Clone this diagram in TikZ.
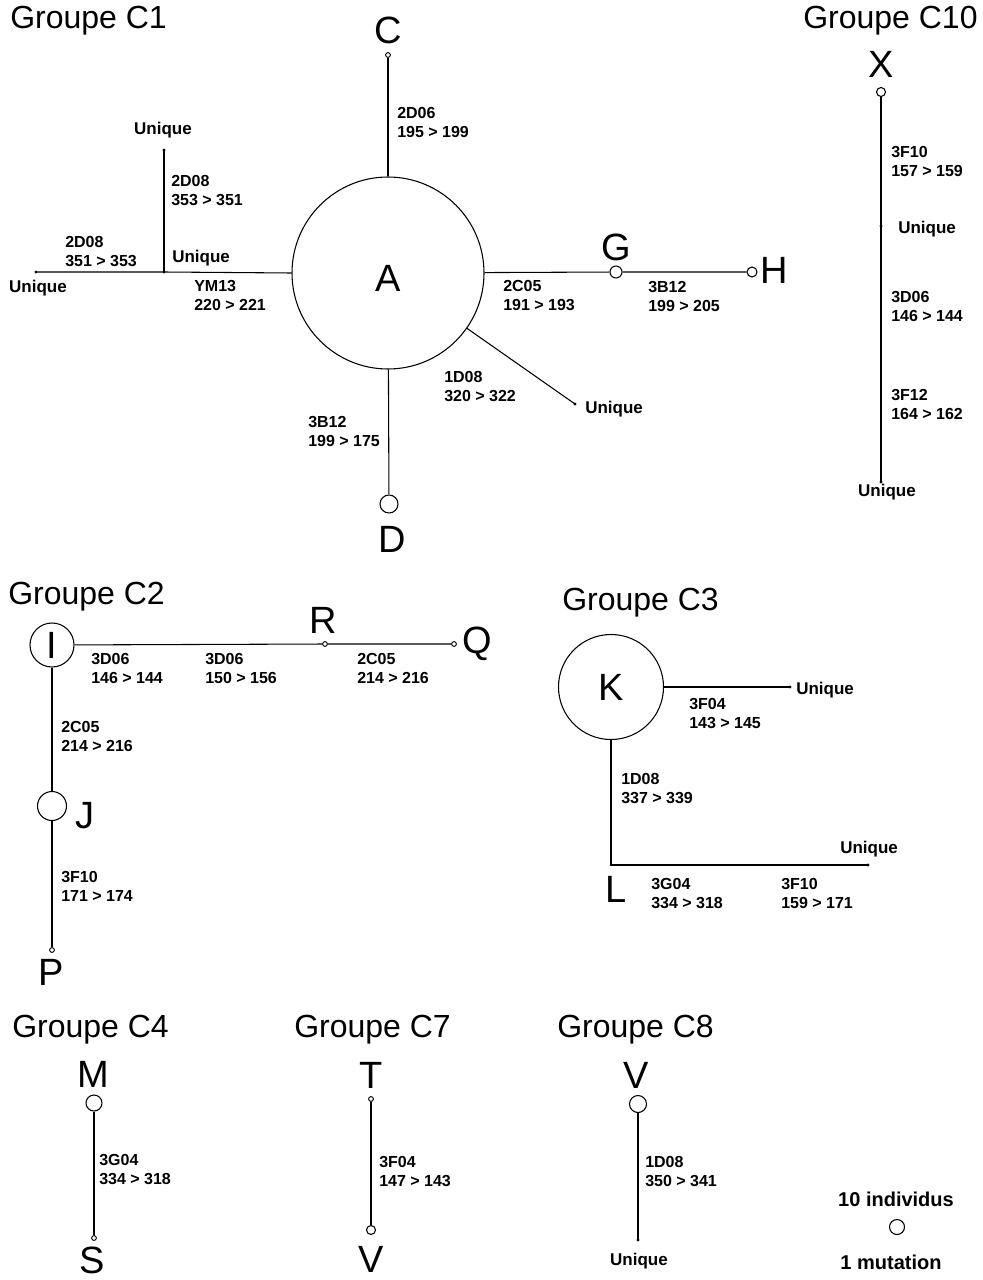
\documentclass[tikz,border=0pt]{standalone}
\usepackage{fontspec}
\setmainfont{Liberation Sans}
\newcommand{\labfont}{\fontsize{12}{14.25}\selectfont\bfseries}
\newcommand{\unifont}{\fontsize{12.75}{15}\selectfont\bfseries}
\newcommand{\bigfont}{\fontsize{28.5}{30}\selectfont}
\newcommand{\grpfont}{\fontsize{24}{26}\selectfont}
\newcommand{\legfont}{\fontsize{15}{17}\selectfont\bfseries}
\begin{document}
\begin{tikzpicture}[x=0.75pt,y=-0.75pt,
  hap/.style={circle, draw, line width=0.8pt, inner sep=0pt, minimum size=#1},
  dotn/.style={circle, fill, inner sep=0pt, minimum size=2.4pt},
  odot/.style={circle, draw, line width=0.7pt, inner sep=0pt, minimum size=3.6pt},
  lab/.style={font=\labfont, align=left, anchor=west, inner sep=0pt},
  uni/.style={font=\unifont, inner sep=0pt},
  bigl/.style={font=\bigfont, inner sep=0pt},
  grp/.style={font=\grpfont, anchor=west, inner sep=0pt},
  leg/.style={font=\legfont, inner sep=0pt},
  edge/.style={line width=0.8pt}]
\useasboundingbox (0,0) rectangle (982,1280);

% ---------------- Groupe C1 ----------------
\node[grp] (g1) at (10,21) {Groupe C1};
\node[hap=144pt] (A) at (388,273) {};
\node[bigl] (Al) at (388,278) {A};
\node[odot] (C) at (388,55) {};
\node[bigl] (Cl) at (388,30) {C};
\node[hap=13.5pt] (D) at (389,504) {};
\node[bigl] (Dl) at (392,539) {D};
\node[hap=9pt] (G) at (616,272) {};
\node[bigl] (Gl) at (616,247) {G};
\node[hap=7.5pt] (H) at (752,272) {};
\node[bigl] (Hl) at (774,270) {H};
\node[dotn] (j1) at (164,272) {};
\node[dotn] (u1) at (36,272) {};
\node[dotn] (u2) at (164,150) {};
\node[dotn] (u3) at (575,404) {};

\draw[edge] (A) -- (C);
\draw[edge] (A) -- (D);
\draw[edge] (A) -- (G) -- (H);
\draw[edge] (A.west) -- (j1.center) -- (u1.center);
\draw[edge] (j1.center) -- (u2.center);
\draw[edge] (A) -- (u3.center);

\node[uni] (t1) at (163,130) {Unique};
\node[uni, anchor=west] (t2) at (172,258) {Unique};
\node[uni] (t3) at (38,288) {Unique};
\node[uni, anchor=west] (t4) at (585,409) {Unique};

\node[lab] (l1) at (397,122.5) {2D06\\195 > 199};
\node[lab] (l2) at (171,190.5) {2D08\\353 > 351};
\node[lab] (l3) at (65,251.5) {2D08\\351 > 353};
\node[lab] (l4) at (194,295.5) {YM13\\220 > 221};
\node[lab] (l5) at (503,296) {2C05\\191 > 193};
\node[lab] (l6) at (648,296) {3B12\\199 > 205};
\node[lab] (l7) at (444,386.5) {1D08\\320 > 322};
\node[lab] (l8) at (308,431) {3B12\\199 > 175};

% ---------------- Groupe C10 ----------------
\node[grp] (g10) at (803,21) {Groupe C10};
\node[bigl] (Xl) at (881,64) {X};
\node[hap=6.75pt] (X) at (881,92) {};
\node[dotn] (u4) at (881,226) {};
\node[dotn] (u5) at (881,482) {};
\draw[edge] (X) -- (u4.center) -- (u5.center);
\node[uni, anchor=west] (t5) at (898,229) {Unique};
\node[uni] (t6) at (887,492) {Unique};
\node[lab] (l9) at (891,161.5) {3F10\\157 > 159};
\node[lab] (l10) at (891,306) {3D06\\146 > 144};
\node[lab] (l11) at (891,404.5) {3F12\\164 > 162};

% ---------------- Groupe C2 ----------------
\node[grp] (g2) at (8,597) {Groupe C2};
\node[hap=33pt] (I) at (52,645) {};
\node[bigl] (Il) at (52,645) {I};
\node[odot] (R) at (325,644) {};
\node[bigl] (Rl) at (323,620) {R};
\node[odot] (Q) at (454,644) {};
\node[bigl] (Ql) at (477,644) {Q};
\node[hap=21.75pt] (J) at (52,806) {};
\node[bigl] (Jl) at (85,816) {J};
\node[odot] (P) at (52,950) {};
\node[bigl] (Pl) at (51,972) {P};
\draw[edge] (I) -- (R) -- (Q);
\draw[edge] (I) -- (J) -- (P);
\node[lab] (l12) at (91,668.5) {3D06\\146 > 144};
\node[lab] (l13) at (205,668.5) {3D06\\150 > 156};
\node[lab] (l14) at (357,668.5) {2C05\\214 > 216};
\node[lab] (l15) at (61,736) {2C05\\214 > 216};
\node[lab] (l16) at (61,886.5) {3F10\\171 > 174};

% ---------------- Groupe C3 ----------------
\node[grp] (g3) at (562,603) {Groupe C3};
\node[hap=78.75pt] (K) at (611,687) {};
\node[bigl] (Kl) at (611,687) {K};
\node[dotn] (u6) at (790,687) {};
\node[dotn] (u7) at (868,865) {};
\draw[edge] (K) -- (u6.center);
\draw[edge] (K) |- (u7.center);
\node[uni, anchor=west] (t7) at (796,690) {Unique};
\node[uni, anchor=west] (t8) at (840,849) {Unique};
\node[bigl] (Ll) at (616,889) {L};
\node[lab] (l17) at (689,713) {3F04\\143 > 145};
\node[lab] (l18) at (621,788.5) {1D08\\337 > 339};
\node[lab] (l19) at (651,893.5) {3G04\\334 > 318};
\node[lab] (l20) at (781,893.5) {3F10\\159 > 171};

% ---------------- Groupe C4 ----------------
\node[grp] (g4) at (12,1030) {Groupe C4};
\node[bigl] (Ml) at (93,1074) {M};
\node[hap=12pt] (M) at (94,1103) {};
\node[odot] (S) at (94,1238) {};
\node[bigl] (Sl) at (92,1260) {S};
\draw[edge] (M) -- (S);
\node[lab] (l21) at (99,1169) {3G04\\334 > 318};

% ---------------- Groupe C7 ----------------
\node[grp] (g7) at (294,1030) {Groupe C7};
\node[bigl] (Tl) at (371,1075) {T};
\node[odot] (T) at (371,1099) {};
\node[hap=6.75pt] (V7) at (371,1230) {};
\node[bigl] (V7l) at (371,1259) {V};
\draw[edge] (T) -- (V7);
\node[lab] (l22) at (379,1171) {3F04\\147 > 143};

% ---------------- Groupe C8 ----------------
\node[grp] (g8) at (557,1030) {Groupe C8};
\node[bigl] (V8l) at (636,1075) {V};
\node[hap=12.75pt] (V8) at (638,1104) {};
\node[dotn] (u8) at (638,1240) {};
\draw[edge] (V8) -- (u8.center);
\node[uni] (t9) at (639,1261) {Unique};
\node[lab] (l23) at (645,1171) {1D08\\350 > 341};

% ---------------- Legend ----------------
\node[leg] (lg1) at (896,1199) {10 individus};
\node[hap=11.25pt] (lgc) at (897,1227) {};
\node[leg] (lg2) at (891,1262) {1 mutation};
\end{tikzpicture}
\end{document}
